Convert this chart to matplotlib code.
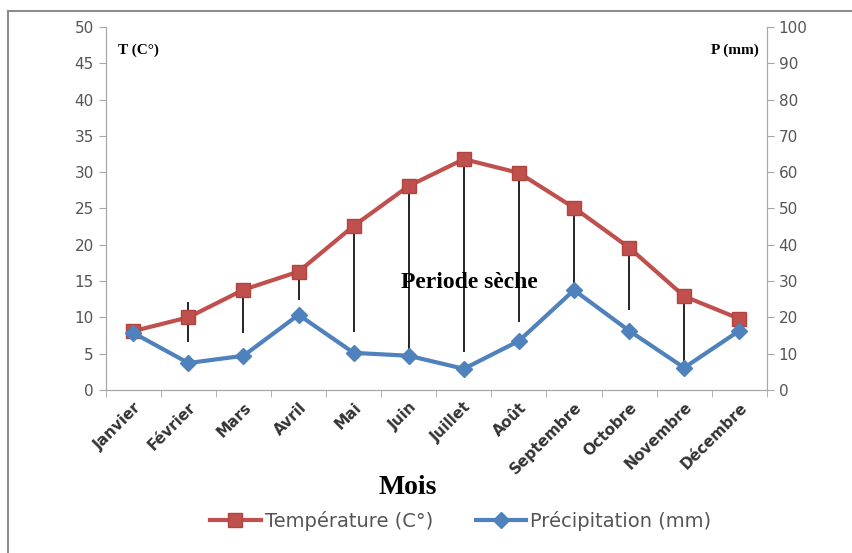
import matplotlib.pyplot as plt
import numpy as np
from matplotlib.patches import Rectangle

# donnees climatiques
mois = ['Janvier', 'Février', 'Mars', 'Avril', 'Mai', 'Juin', 'Juillet',
        'Août', 'Septembre', 'Octobre', 'Novembre', 'Décembre']
temperature = [8.1, 10.0, 13.8, 16.3, 22.6, 28.1, 31.8, 29.9, 25.1, 19.6, 12.9, 9.8]
precipitation = [15.7, 7.4, 9.4, 20.7, 10.2, 9.4, 5.8, 13.5, 27.5, 16.3, 6.1, 16.3]

# traits verticaux de la periode seche (echelle des temperatures)
sec_idx = [1, 2, 3, 4, 5, 6, 7, 8, 9, 10]
sec_haut = [12.1, 14.7, 16.3, 22.6, 28.1, 31.8, 29.9, 24.5, 19.3, 12.8]
sec_bas = [6.6, 7.9, 12.4, 8.0, 4.6, 5.2, 9.4, 13.8, 11.0, 3.0]

rouge = '#C0504D'
bleu = '#4F81BD'
gris = '#A6A6A6'

fig = plt.figure(figsize=(8.53, 5.53), dpi=100)
ax = fig.add_axes([0.124, 0.295, 0.775, 0.656])
ax2 = ax.twinx()

x = np.arange(len(mois))

ax.vlines(sec_idx, sec_bas, sec_haut, color='black', lw=1.2, zorder=1)
l1, = ax.plot(x, temperature, color=rouge, lw=3, marker='s', ms=10,
              mfc=rouge, mec='#B04540', zorder=3, label='Température (C°)')
l2, = ax2.plot(x, precipitation, color=bleu, lw=3, marker='D', ms=8,
               mfc=bleu, mec=bleu, zorder=3, label='Précipitation (mm)')

ax.set_xlim(-0.5, 11.5)
ax.set_ylim(0, 50)
ax2.set_ylim(0, 100)
ax.set_yticks(np.arange(0, 51, 5))
ax2.set_yticks(np.arange(0, 101, 10))

ax.set_xticks(x)
ax.set_xticklabels(mois, rotation=45, ha='right', rotation_mode='anchor',
                   fontsize=11, fontweight='bold', color='#333333')
ax.set_xticks(np.arange(-0.5, 12, 1), minor=True)
ax.tick_params(axis='x', which='major', length=0, pad=7)
ax.tick_params(axis='x', which='minor', length=5, color=gris)
ax.tick_params(axis='y', labelsize=11, colors='#555555', length=5, color=gris)
ax2.tick_params(axis='y', labelsize=11, colors='#555555', length=5, color=gris)

for a in (ax, ax2):
    a.spines['top'].set_visible(False)
    for s in ('left', 'right', 'bottom'):
        a.spines[s].set_color(gris)

ax.text(0.018, 0.955, 'T (C°)', transform=ax.transAxes, fontsize=11,
        fontweight='bold', family='Liberation Serif', va='top')
ax.text(0.988, 0.955, 'P (mm)', transform=ax.transAxes, fontsize=11,
        fontweight='bold', family='Liberation Serif', va='top', ha='right')
ax.text(6.1, 14.8, 'Periode sèche', fontsize=17, fontweight='bold',
        family='Liberation Serif', ha='center', va='center')

fig.text(0.478, 0.118, 'Mois', fontsize=20, fontweight='bold',
         family='Liberation Serif', ha='center', va='center')

fig.legend(handles=[l1, l2], loc='center', bbox_to_anchor=(0.54, 0.058),
           ncol=2, frameon=False, fontsize=14, handlelength=2.6,
           columnspacing=2.2, handletextpad=0.2, labelcolor='#555555')

fig.patches.append(Rectangle((0.009, -0.02), 1.2, 1.0, transform=fig.transFigure,
                             fill=False, edgecolor='#8C8C8C', lw=1.5))

fig.savefig('out.png', dpi=100)
